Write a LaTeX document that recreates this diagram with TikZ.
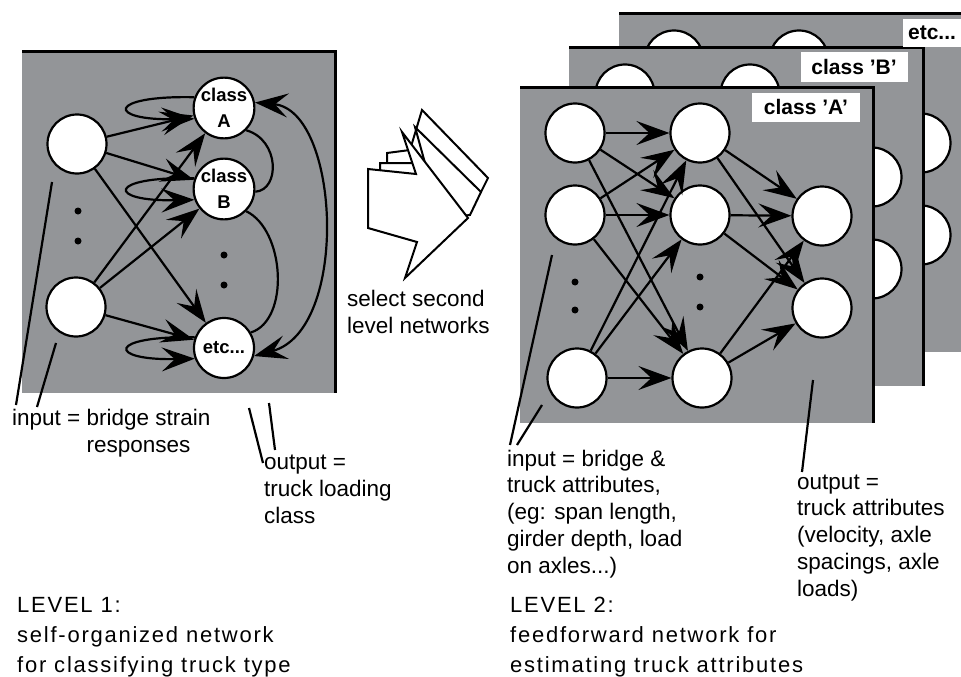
\documentclass[tikz,border=0pt]{standalone}
\usepackage{fontspec}
\setmainfont{Liberation Sans}
\newfontfamily\levelfont[LetterSpace=8]{Liberation Sans}
\usetikzlibrary{arrows.meta}
\definecolor{panelgray}{RGB}{147,149,152}
\begin{document}
\begin{tikzpicture}[x=1pt, y=-1pt, line join=miter,
    tip/.tip={Stealth[length=33pt 0, width=24pt 0, inset=13pt 0]},
    unit/.style={circle, draw, fill=white, line width=2.2pt, minimum size=59pt, inner sep=0pt},
    cls/.style={unit, minimum size=60pt, font=\fontsize{18.5}{26}\selectfont\bfseries, align=center},
    arr/.style={line width=2.2pt, -tip},
    arrs/.style={line width=2.2pt, tip-tip},
    lead/.style={line width=2.2pt},
    edge/.style={line width=3pt},
    sheet/.style={draw, fill=white, line width=2pt},
    % multi-line notes are placed by the baseline of their last line
    note/.style={font=\fontsize{22.5}{26.7}\selectfont, align=left, anchor=base west, inner sep=0pt},
    level/.style={font=\fontsize{22}{30}\selectfont\levelfont, align=left, anchor=base west, inner sep=0pt},
    tag/.style={fill=white, font=\fontsize{21}{21}\selectfont\bfseries, inner sep=0pt}]
  \useasboundingbox (0,0) rectangle (961,677);

  % level 1
  \fill [panelgray] (22,52) rectangle (335,393);
  \draw [edge] (22,52) -- (335,52) -- (335,393);
  \node [unit] (in1) at (77,144) {};
  \node [unit] (in2) at (76,307) {};
  \node [cls] (ca) at (224,108) {class\\A};
  \node [cls] (cb) at (224,189) {class\\B};
  \node [cls] (cetc) at (224,348) {etc...};
  \fill (78,211) circle (3.5) (78,241) circle (3.5);
  \fill (224,255) circle (3.5) (224,285) circle (3.5);
  \foreach \s in {in1,in2}
    \foreach \t in {ca,cb,cetc}
      \draw [arr] (\s) -- (\t);
  \foreach \t in {ca,cb,cetc}
    \draw [arr] (\t.160) .. controls +(-88,-2) and +(-88,2) .. (\t.200);
  \draw [lead] (ca.-45) .. controls (280,140) and (280,190) .. (cb.-5);
  \draw [lead] (cb.-45) .. controls (285,230) and (290,320) .. (cetc.30);
  \draw [arrs] (cetc.-15) .. controls (350,330) and (340,110) .. (ca.10);

  \draw [lead] (52,182) -- (16,405);
  \draw [lead] (56,343) -- (37,407);
  \draw [lead] (249,408) -- (263,463);
  \draw [lead] (269,403) -- (275,450);
  \node [note] (inlab1) at (12,452) {input = bridge strain\\\phantom{input = }responses};
  \node [note] (outlab1) at (264,523) {output =\\truck loading\\class};
  \node [level] (lev1) at (17,672) {LEVEL 1:\\self-organized network\\for classifying truck type};

  % select icon
  \draw [sheet] (387,153) -- (410,150) -- (422,110) -- (488,178) -- (481,192) -- (387,200) -- cycle;
  \draw [sheet] (380,163) -- (425,163) -- (415,127) -- (481,192) -- (470,215) -- (380,225) -- cycle;
  \draw [sheet] (368,169) -- (416,174) -- (402,132) -- (468,218) -- (405,278) -- (417,242) -- (368,228) -- cycle;
  \node [note] (sel) at (347,333) {select second\\level networks};

  % level 2, back panels
  \fill [panelgray] (619,14) rectangle (961,352);
  \draw [edge] (619,14) -- (961,14);
  \begin{scope}[shift={(99,-73)}]
    \foreach \p in {(575,133),(575,215),(577,378),(700,133),(700,215),(702,378),(822,216),(822,308)}
      \filldraw [fill=white, line width=2.2pt] \p circle (29.5);
  \end{scope}
  \fill [panelgray] (569,48) rectangle (923,386);
  \draw [edge] (569,48) -- (923,48) -- (923,386);
  \begin{scope}[shift={(50,-39)}]
    \foreach \p in {(575,133),(575,215),(577,378),(700,133),(700,215),(702,378),(822,216),(822,308)}
      \filldraw [fill=white, line width=2.2pt] \p circle (29.5);
  \end{scope}
  \node [tag, minimum width=58, minimum height=28] (tagetc) at (932,33) {etc...};
  \node [tag, minimum width=107, minimum height=30] (tagb) at (854,67) {class 'B'};

  % level 2, front panel
  \fill [panelgray] (520,87) rectangle (873,423);
  \draw [edge] (520,87) -- (873,87) -- (873,423);
  \node [tag, minimum width=108, minimum height=29] (taga) at (806,107) {class 'A'};
  \node [unit] (i1) at (575,133) {};
  \node [unit] (i2) at (575,215) {};
  \node [unit] (i3) at (577,378) {};
  \node [unit] (h1) at (700,133) {};
  \node [unit] (h2) at (700,215) {};
  \node [unit] (h3) at (702,378) {};
  \node [unit] (o1) at (822,216) {};
  \node [unit] (o2) at (822,308) {};
  \fill (575,282) circle (3.5) (575,310) circle (3.5);
  \fill (700,277) circle (3.5) (700,307) circle (3.5);
  \foreach \s in {i1,i2,i3}
    \foreach \t in {h1,h2,h3}
      \draw [arr] (\s) -- (\t);
  \foreach \s in {h1,h2,h3}
    \foreach \t in {o1,o2}
      \draw [arr] (\s) -- (\t);

  \draw [lead] (552,255) -- (510,445);
  \draw [lead] (542,405) -- (517,445);
  \draw [lead] (813,380) -- (802,472);
  \node [note] (inlab2) at (507,573) {input = bridge \&\\truck attributes,\\(eg: span length,\\girder depth, load\\on axles...)};
  \node [note] (outlab2) at (797,596) {output =\\truck attributes\\(velocity, axle\\spacings, axle\\loads)};
  \node [level] (lev2) at (510,672) {LEVEL 2:\\feedforward network for\\estimating truck attributes};
\end{tikzpicture}
\end{document}
